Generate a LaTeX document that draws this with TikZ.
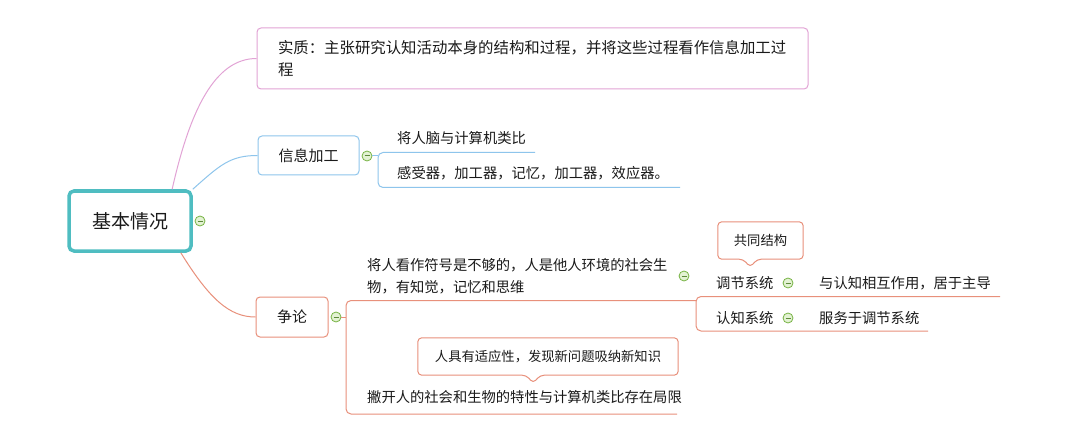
\documentclass[tikz,border=0pt]{standalone}
\usepackage{fontspec}
\setmainfont{Noto Sans CJK SC}
\usetikzlibrary{calc}
\definecolor{pinkc}{HTML}{E2A3D5}
\definecolor{bluec}{HTML}{8EC5EC}
\definecolor{salc}{HTML}{E8907B}
\definecolor{tealc}{HTML}{4FBDC1}
\definecolor{foldc}{HTML}{77B344}
\definecolor{foldfill}{HTML}{E3F2D3}
\definecolor{foldminus}{HTML}{5E8A3A}
\definecolor{txtc}{HTML}{1A1A1A}
\newcommand\mmroot{\fontsize{19}{24}\selectfont}
\newcommand\mmbig{\fontsize{15.4}{22}\selectfont}
\newcommand\mmmain{\fontsize{15}{20}\selectfont}
\newcommand\mmsub{\fontsize{14.3}{22}\selectfont}
\newcommand\mmcall{\fontsize{13.3}{18}\selectfont}
\begin{document}
\begin{tikzpicture}[x=1pt,y=-1pt,
  box/.style={draw, rounded corners=4, line width=1pt, fill=white, text=txtc, inner sep=0pt},
  fold/.style={circle, draw=foldc, fill=foldfill, line width=0.8pt, minimum size=10pt, inner sep=0pt,
    path picture={\draw[foldminus, line width=1pt] ([xshift=2.5pt]path picture bounding box.west) -- ([xshift=-2.5pt]path picture bounding box.east);}},
  sub/.style={anchor=west, inner sep=0pt, font=\mmsub, text=txtc, align=left},
  calltext/.style={inner sep=0pt, font=\mmcall, text=txtc},
  conn/.style={line width=1pt}
]
\useasboundingbox (0,0) rectangle (1066,441);
\fill[white] (0,0) rectangle (1066,441);

% root
\node[draw=tealc, line width=3.5pt, rounded corners=5, minimum width=122pt, minimum height=60pt, fill=white, font=\mmroot, text=txtc, inner sep=0pt] (root) at (130,221) {基本情况};
\node[fold] (froot) at (200,221) {};

% topic 1
\node[box, draw=pinkc, minimum width=551pt, minimum height=61pt, text width=509pt, align=left, font=\mmbig] (b1) at (532.5,58.5)
  {实质：主张研究认知活动本身的结构和过程，并将这些过程看作信息加工过\\程};

% topic 2
\node[box, draw=bluec, minimum width=101pt, minimum height=39pt, font=\mmmain] (info) at (308.5,155.5) {信息加工};
\node[fold] (finfo) at (367,156) {};
\node[sub] (i1) at (397,138) {将人脑与计算机类比};
\node[sub] (i2) at (397,173) {感受器，加工器，记忆，加工器，效应器。};
\coordinate (iJ) at (378,156);
\coordinate (iE1) at (535,152.5);
\coordinate (iE2) at (680,187.5);

% topic 3
\node[box, draw=salc, minimum width=72pt, minimum height=40pt, font=\mmmain] (deb) at (292,317) {争论};
\node[fold] (fdeb) at (336,317) {};
\node[sub] (d1) at (367,276) {将人看作符号是不够的，人是他人环境的社会生\\物，有知觉，记忆和思维};
\node[fold] (fd1) at (684,276) {};
\node[sub] (d2) at (367,397) {撇开人的社会和生物的特性与计算机类比存在局限};
\coordinate (dJ) at (346,317);
\coordinate (dE1) at (696,300.5);
\coordinate (dE2) at (677,414);

\node[sub] (r1) at (716,283) {调节系统};
\node[fold] (fr1) at (788,283) {};
\node[sub] (r11) at (819,283) {与认知相互作用，居于主导};
\node[sub] (r2) at (716,318) {认知系统};
\node[fold] (fr2) at (788,318) {};
\node[sub] (r21) at (819,318) {服务于调节系统};
\coordinate (rE1) at (1000,296.5);
\coordinate (rE2) at (928,331);

% callouts
\node[calltext, minimum width=260pt, minimum height=37pt] (cl1) at (548,356.5) {人具有适应性，发现新问题吸纳新知识};
\draw[salc, line width=1pt, rounded corners=4] (cl1.west) -- (cl1.north west) -- (cl1.north east) -- (cl1.south east)
  -- ([xshift=-138pt]cl1.south east) -- ++(-7,8) -- ++(-7,-8) -- (cl1.south west) -- cycle;
\node[calltext, minimum width=85pt, minimum height=37pt] (cl2) at (760.5,240.5) {共同结构};
\draw[salc, line width=1pt, rounded corners=4] (cl2.west) -- (cl2.north west) -- (cl2.north east) -- (cl2.south east)
  -- ([xshift=-46pt]cl2.south east) -- ++(-7,8) -- ++(-7,-8) -- (cl2.south west) -- cycle;

% connectors root -> topics
\draw[conn, pinkc] (root.37) .. controls (190,110) and (215,58.5) .. (b1.west);
\draw[conn, bluec] (root.north east) .. controls (220,165) and (230,155.5) .. (info.west);
\draw[conn, salc] (root.-32) .. controls (210,300) and (230,317) .. (deb.west);

% brackets
\draw[conn, bluec] (finfo.east) -- (iJ);
\draw[conn, bluec, rounded corners=5] (iE1) -- (iE1 -| iJ) -- (iE2 -| iJ) -- (iE2);
\draw[conn, salc] (fdeb.east) -- (dJ);
\draw[conn, salc, rounded corners=5] (dE1) -- (dE1 -| dJ) -- (dE2 -| dJ) -- (dE2);
\draw[conn, salc, rounded corners=5] (rE1) -- (rE1 -| dE1) -- (rE2 -| dE1) -- (rE2);
\end{tikzpicture}
\end{document}
